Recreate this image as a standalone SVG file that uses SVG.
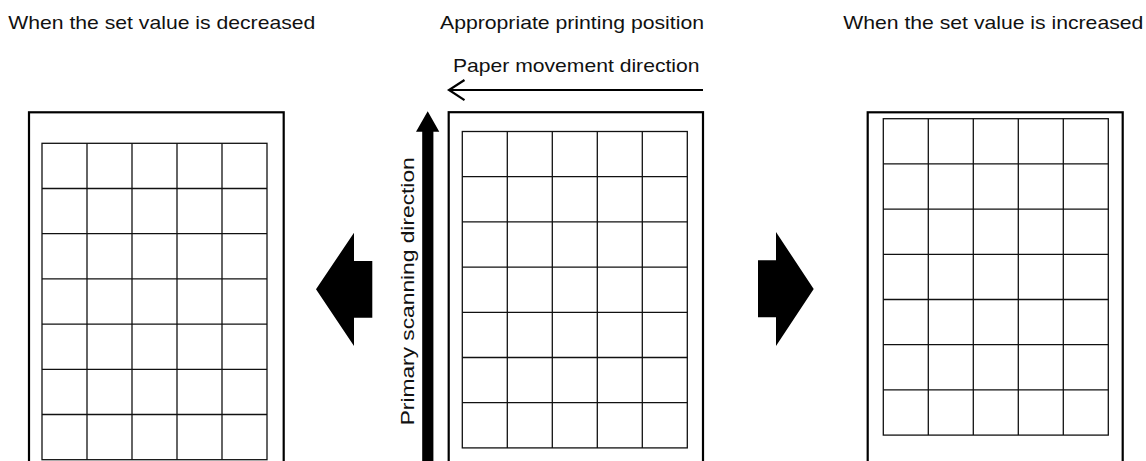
<svg xmlns="http://www.w3.org/2000/svg" xmlns:xlink="http://www.w3.org/1999/xlink" width="1146" height="461" viewBox="0 0 1146 461">
  <style>
    .lbl { font-family: "Liberation Sans", Arial, sans-serif; font-size: 18.6px; fill: #111; }
    .sheet { fill: #fff; stroke: #000; stroke-width: 2.2; }
    .grid line { stroke: #111; stroke-width: 1.3; }
    .grid rect { fill: none; stroke: #111; stroke-width: 1.3; }
    .solid { fill: #000; stroke: none; }
    .thin-arrow { fill: none; stroke: #000; stroke-width: 2.2; }
  </style>
  <defs>
    <!-- 5 x 7 cell print grid, 45 x 45.2 per cell -->
    <g id="print-grid" class="grid">
      <rect x="0" y="0" width="225" height="316.4"/>
      <line x1="45" y1="0" x2="45" y2="316.4"/>
      <line x1="90" y1="0" x2="90" y2="316.4"/>
      <line x1="135" y1="0" x2="135" y2="316.4"/>
      <line x1="180" y1="0" x2="180" y2="316.4"/>
      <line x1="0" y1="45.2" x2="225" y2="45.2"/>
      <line x1="0" y1="90.4" x2="225" y2="90.4"/>
      <line x1="0" y1="135.6" x2="225" y2="135.6"/>
      <line x1="0" y1="180.8" x2="225" y2="180.8"/>
      <line x1="0" y1="226" x2="225" y2="226"/>
      <line x1="0" y1="271.2" x2="225" y2="271.2"/>
    </g>
  </defs>

  <rect width="1146" height="461" fill="#fff"/>

  <!-- titles -->
  <text class="lbl" x="8.3" y="29.3" textLength="307" lengthAdjust="spacingAndGlyphs">When the set value is decreased</text>
  <text class="lbl" x="440" y="29.3" textLength="264" lengthAdjust="spacingAndGlyphs">Appropriate printing position</text>
  <text class="lbl" x="843.3" y="29.3" textLength="300" lengthAdjust="spacingAndGlyphs">When the set value is increased</text>

  <!-- sheet printed with a decreased value: image shifted down -->
  <g id="sheet-decreased">
    <rect class="sheet" x="29" y="112.3" width="254.7" height="400"/>
    <use xlink:href="#print-grid" href="#print-grid" x="42" y="143.3"/>
  </g>

  <!-- sheet at the appropriate position -->
  <g id="sheet-appropriate">
    <rect class="sheet" x="448.7" y="112.2" width="254.3" height="400"/>
    <use xlink:href="#print-grid" href="#print-grid" x="462.3" y="131.5"/>
  </g>

  <!-- sheet printed with an increased value: image shifted up -->
  <g id="sheet-increased">
    <rect class="sheet" x="867.7" y="112.3" width="255" height="400"/>
    <use xlink:href="#print-grid" href="#print-grid" x="883.3" y="118.7"/>
  </g>

  <g id="connectors">
    <!-- paper movement direction -->
    <g id="paper-movement">
      <text class="lbl" x="453" y="71.7" textLength="246.5" lengthAdjust="spacingAndGlyphs">Paper movement direction</text>
      <line class="thin-arrow" x1="703" y1="90" x2="449" y2="90"/>
      <polyline class="thin-arrow" points="464.5,80 449,90 464.5,100.2"/>
    </g>

    <!-- primary scanning direction -->
    <g id="primary-scan">
      <path class="solid" d="M427.7,111.2 L439.3,131.7 L433.4,131.7 L433.4,470 L422.2,470 L422.2,131.7 L416,131.7 Z"/>
      <text class="lbl" transform="translate(413.6,425.3) rotate(-90)" x="0" y="0" textLength="268" lengthAdjust="spacingAndGlyphs">Primary scanning direction</text>
    </g>

    <!-- shift arrows -->
    <path id="shift-left" class="solid" d="M316,289.3 L354,232.7 L354,261 L372.3,261 L372.3,317.7 L354,317.7 L354,346 Z"/>
    <path id="shift-right" class="solid" d="M813.7,289 L776,232 L776,260.3 L758,260.3 L758,317.3 L776,317.3 L776,346 Z"/>
  </g>
</svg>
